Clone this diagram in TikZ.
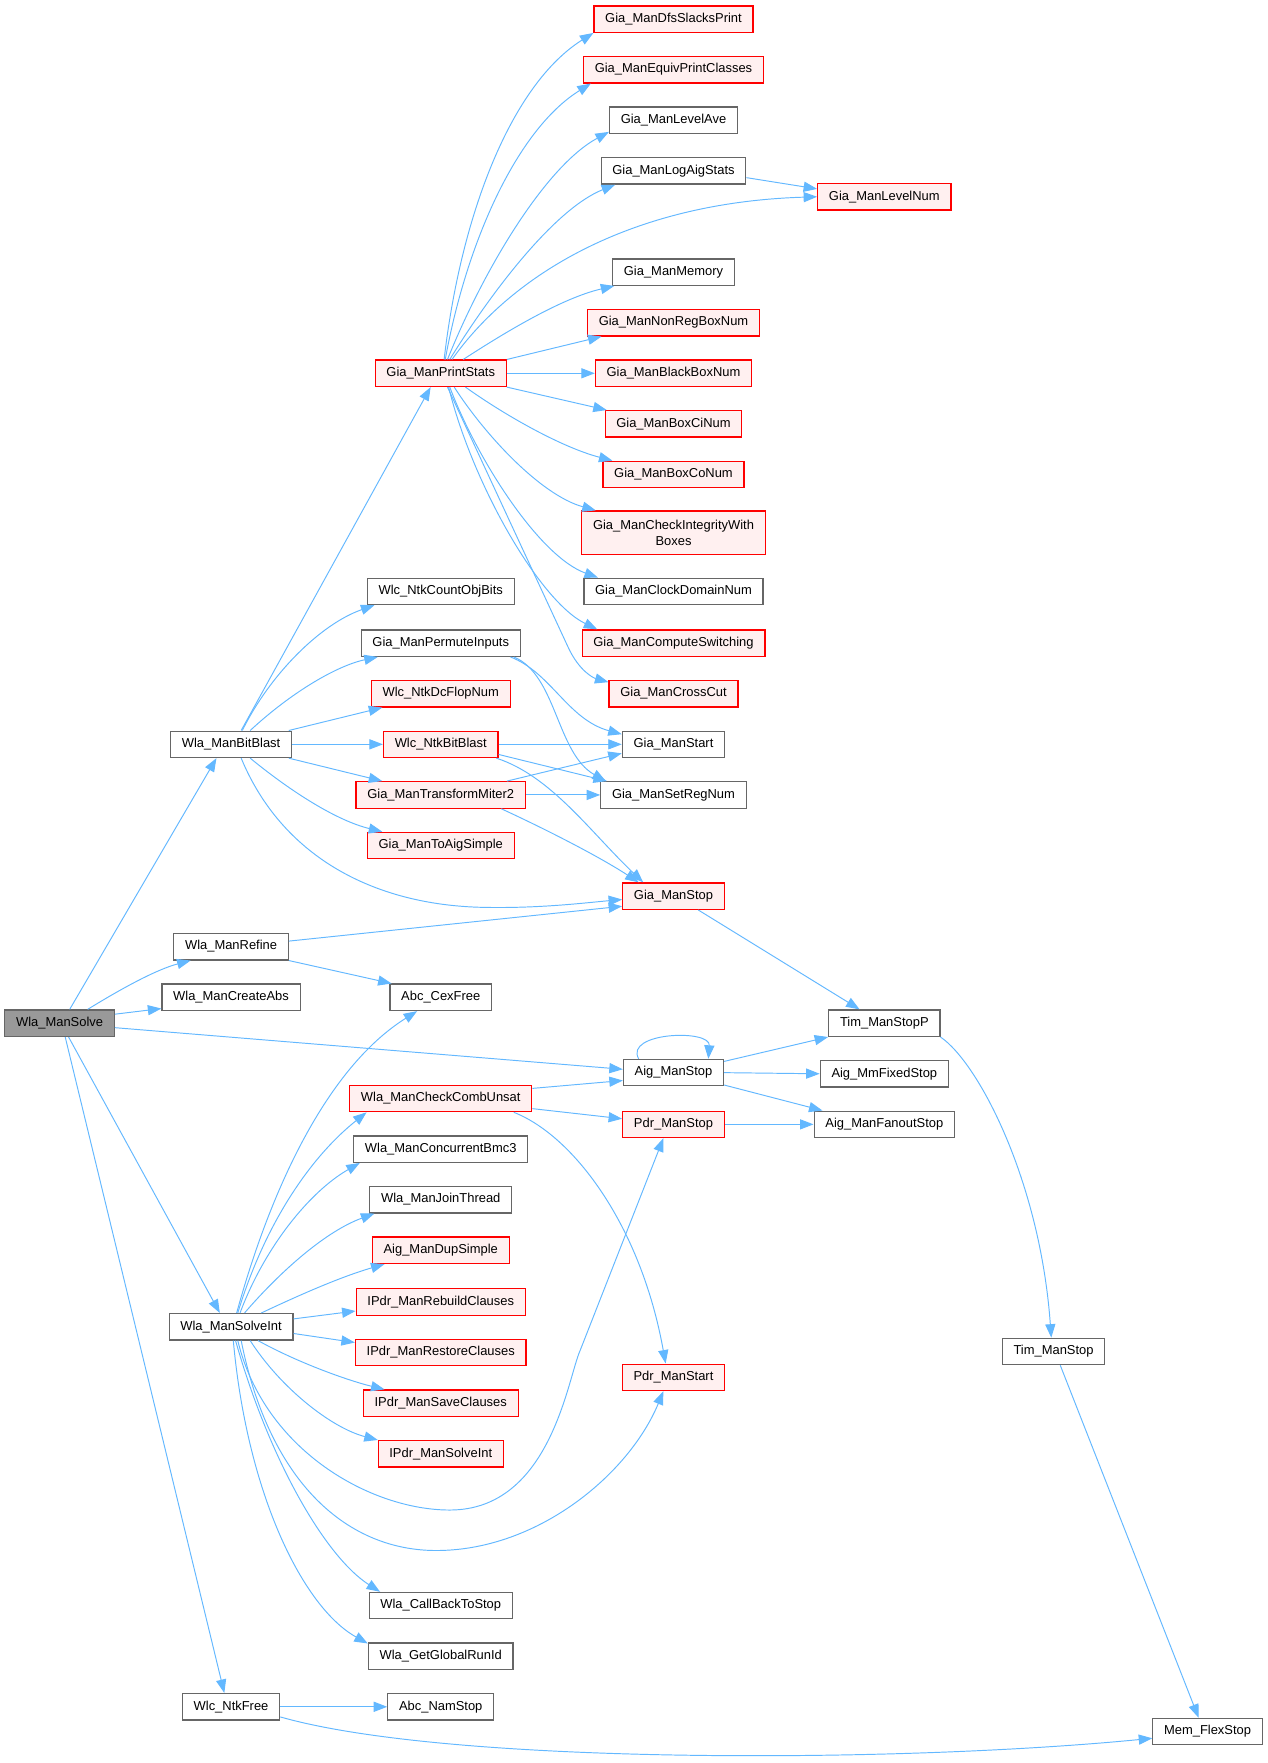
\documentclass[tikz,border=0pt]{standalone}
\usepackage{fontspec}
\setmainfont{Liberation Sans}
\usetikzlibrary{arrows.meta}
\definecolor{edgeblue}{HTML}{63B8FF}
\definecolor{nodegray}{HTML}{666666}
\definecolor{rootfill}{HTML}{999999}
\definecolor{redfill}{HTML}{FFF0F0}
\begin{document}
\begin{tikzpicture}[x=1pt,y=-1pt,
 boxbase/.style={rectangle, draw, font=\fontsize{11.5}{14}\selectfont, inner xsep=10pt, inner ysep=0pt, line width=1.1pt},
 oneline/.style={boxbase, minimum height=23.5pt, text height=8.4pt, text depth=2.6pt},
 gnode/.style={oneline, draw=nodegray, fill=white},
 rnode/.style={oneline, draw=red, fill=redfill},
 rnodetwo/.style={boxbase, draw=red, fill=redfill, minimum height=39pt, align=center},
 rootnode/.style={oneline, draw=nodegray, fill=rootfill},
 edg/.style={draw=edgeblue, line width=0.85pt, -{Triangle[length=12pt,width=9pt]}},
]
\fill[white] (0,0) rectangle (1127,1568);
\useasboundingbox (0,0) rectangle (1127,1568);

% column 0/1
\node[rootnode] (root) at (53,910) {Wla\_ManSolve};
\node[gnode] (bb) at (205.5,662) {Wla\_ManBitBlast};
\node[gnode] (ref) at (205.5,842) {Wla\_ManRefine};
\node[gnode] (ca) at (205.5,887) {Wla\_ManCreateAbs};
\node[gnode] (si) at (205.5,1180) {Wla\_ManSolveInt};
\node[gnode] (nf) at (205.5,1518) {Wlc\_NtkFree};

% column 2
\node[rnode] (ps) at (392,332) {Gia\_ManPrintStats};
\node[gnode] (cob) at (392,526) {Wlc\_NtkCountObjBits};
\node[gnode] (pi) at (392,572) {Gia\_ManPermuteInputs};
\node[rnode] (dcf) at (392,617) {Wlc\_NtkDcFlopNum};
\node[rnode] (nbb) at (392,662) {Wlc\_NtkBitBlast};
\node[rnode] (tm) at (392,707) {Gia\_ManTransformMiter2};
\node[rnode] (tas) at (392,752) {Gia\_ManToAigSimple};
\node[gnode] (cex) at (392,887) {Abc\_CexFree};
\node[rnode] (ccu) at (392,977) {Wla\_ManCheckCombUnsat};
\node[gnode] (cb3) at (392,1022) {Wla\_ManConcurrentBmc3};
\node[gnode] (jt) at (392,1067) {Wla\_ManJoinThread};
\node[rnode] (ads) at (392,1112) {Aig\_ManDupSimple};
\node[rnode] (rbc) at (392,1158) {IPdr\_ManRebuildClauses};
\node[rnode] (rsc) at (392,1203) {IPdr\_ManRestoreClauses};
\node[rnode] (svc) at (392,1248) {IPdr\_ManSaveClauses};
\node[rnode] (ipsi) at (392,1293) {IPdr\_ManSolveInt};
\node[gnode] (cbs) at (392,1428) {Wla\_CallBackToStop};
\node[gnode] (ggr) at (392,1473) {Wla\_GetGlobalRunId};
\node[gnode] (nam) at (392,1518) {Abc\_NamStop};

% column 3
\node[rnode] (dfs) at (599,17) {Gia\_ManDfsSlacksPrint};
\node[rnode] (epc) at (599,62) {Gia\_ManEquivPrintClasses};
\node[gnode] (lave) at (599,107) {Gia\_ManLevelAve};
\node[gnode] (las) at (599,152) {Gia\_ManLogAigStats};
\node[gnode] (mem) at (599,242) {Gia\_ManMemory};
\node[rnode] (nrb) at (599,287) {Gia\_ManNonRegBoxNum};
\node[rnode] (bbn) at (599,332) {Gia\_ManBlackBoxNum};
\node[rnode] (bci) at (599,377) {Gia\_ManBoxCiNum};
\node[rnode] (bco) at (599,422) {Gia\_ManBoxCoNum};
\node[rnodetwo] (cib) at (599,474) {Gia\_ManCheckIntegrityWith\\Boxes};
\node[gnode] (cdn) at (599,526) {Gia\_ManClockDomainNum};
\node[rnode] (csw) at (599,572) {Gia\_ManComputeSwitching};
\node[rnode] (cc) at (599,617) {Gia\_ManCrossCut};
\node[gnode] (gst) at (599,662) {Gia\_ManStart};
\node[gnode] (srn) at (599,707) {Gia\_ManSetRegNum};
\node[rnode] (gsp) at (599,797) {Gia\_ManStop};
\node[gnode] (ams) at (599,954) {Aig\_ManStop};
\node[rnode] (pst) at (599,1000) {Pdr\_ManStop};
\node[rnode] (pss) at (599,1225) {Pdr\_ManStart};

% column 4/5
\node[rnode] (lnum) at (786.5,175) {Gia\_ManLevelNum};
\node[gnode] (tsp) at (786.5,910) {Tim\_ManStopP};
\node[gnode] (mfs) at (786.5,955) {Aig\_MmFixedStop};
\node[gnode] (afs) at (786.5,1000) {Aig\_ManFanoutStop};
\node[gnode] (ts) at (937,1202) {Tim\_ManStop};
\node[gnode] (mf) at (1074,1540) {Mem\_FlexStop};

% root edges
\draw[edg] ([xshift=9pt]root.north) -- ([xshift=-13pt]bb.south);
\draw[edg] ([xshift=25pt]root.north) .. controls (110,878) and (140,862) .. ([xshift=-36pt]ref.south);
\draw[edg] ([yshift=8pt]root.east) -- ([yshift=-10pt]ca.west);
\draw[edg] ([yshift=-4pt]root.east) -- ([yshift=3pt]ams.west);
\draw[edg] ([xshift=8pt]root.south) -- ([xshift=-10pt]si.north);
\draw[edg] ([xshift=5pt]root.south) -- ([xshift=-6pt]nf.north);

% bitblast edges
\draw[edg] ([xshift=9pt]bb.north) -- ([xshift=-9pt]ps.south);
\draw[edg] ([xshift=10pt]bb.north) .. controls (240,600) and (285,555) .. ([xshift=-59pt]cob.south);
\draw[edg] ([xshift=17pt]bb.north) .. controls (260,615) and (300,592) .. ([xshift=-56pt]pi.south);
\draw[edg] ([xshift=-3pt]bb.north east) -- ([xshift=-52pt]dcf.south);
\draw[edg] (bb.east) -- (nbb.west);
\draw[edg] ([xshift=-3pt]bb.south east) -- ([xshift=-52pt]tm.north);
\draw[edg] ([xshift=17pt]bb.south) .. controls (260,705) and (300,730) .. ([xshift=-52pt]tas.north);
\draw[edg] ([xshift=9pt]bb.south) .. controls (250,760) and (330,805) .. (430,807) .. controls (480,808) and (520,803) .. ([yshift=-3pt]gsp.west);

% print stats edges
\draw[edg] ([xshift=3pt]ps.north) .. controls (410,190) and (455,75) .. (dfs.south west);
\draw[edg] ([xshift=4pt]ps.north) .. controls (415,215) and (460,115) .. ([xshift=7pt]epc.south west);
\draw[edg] ([xshift=6pt]ps.north) .. controls (430,240) and (485,148) .. ([yshift=2pt]lave.south west);
\draw[edg] ([xshift=8pt]ps.north) .. controls (440,255) and (495,185) .. ([xshift=13pt]las.south west);
\draw[edg] ([xshift=10pt]ps.north) .. controls (455,245) and (560,180) .. (lnum.west);
\draw[edg] ([xshift=20pt]ps.north) .. controls (450,295) and (500,265) .. ([xshift=2pt]mem.south west);
\draw[edg] (ps.north east) -- ([xshift=13pt]nrb.south west);
\draw[edg] (ps.east) -- (bbn.west);
\draw[edg] (ps.south east) -- ([xshift=2pt]bci.north west);
\draw[edg] ([xshift=22pt]ps.south) .. controls (450,370) and (500,398) .. ([xshift=9pt]bco.north west);
\draw[edg] ([xshift=12pt]ps.south) .. controls (430,385) and (480,440) .. ([xshift=13pt]cib.north west);
\draw[edg] ([xshift=8pt]ps.south) .. controls (425,410) and (480,495) .. ([xshift=13pt]cdn.north west);
\draw[edg] ([xshift=7pt]ps.south) .. controls (420,430) and (480,535) .. ([xshift=14pt]csw.north west);
\draw[edg] ([xshift=6pt]ps.south) -- (505,575) .. controls (515,597) and (528,603) .. ([yshift=-2pt]cc.north west);
\draw[edg] ([yshift=-6pt]las.east) -- ([yshift=7pt]lnum.west);

% gia start / setregnum / stop
\draw[edg] ([xshift=62pt]pi.south) .. controls (490,598) and (505,640) .. ([yshift=9pt]gst.west);
\draw[edg] ([xshift=65pt]pi.south) .. controls (495,600) and (495,670) .. ([xshift=5pt]srn.north west);
\draw[edg] (nbb.east) -- (gst.west);
\draw[edg] ([yshift=-9pt]nbb.east) -- ([xshift=6pt]srn.north west);
\draw[edg] ([xshift=-2pt]nbb.south east) .. controls (490,690) and (525,740) .. ([xshift=-27pt]gsp.north);
\draw[edg] ([xshift=-17pt]tm.north east) -- ([yshift=-8pt]gst.west);
\draw[edg] (tm.east) -- (srn.west);
\draw[edg] ([xshift=-22pt]tm.south east) .. controls (480,735) and (530,760) .. ([xshift=-31pt]gsp.north);
\draw[edg] ([xshift=22pt]gsp.south) -- ([xshift=-22pt]tsp.north);
\draw[edg] ([yshift=5pt]ref.east) -- ([yshift=-9pt]gsp.west);
\draw[edg] (ref.south east) -- ([xshift=2pt]cex.north west);

% tim / mem
\draw[edg] (tsp.south east) .. controls (870,945) and (925,1050) .. ([xshift=-2pt]ts.north);
\draw[edg] ([xshift=6pt]ts.south) -- ([xshift=-8pt]mf.north);

% aig_manstop
\draw[edg] ([xshift=-31pt]ams.north) .. controls (555,918) and (632,915) .. ([xshift=31pt]ams.north);
\draw[edg] ([yshift=10pt]ams.east) -- (tsp.south west);
\draw[edg] (ams.east) -- (mfs.west);
\draw[edg] ([yshift=-11pt]ams.east) -- ([xshift=8pt]afs.north west);
\draw[edg] (pst.east) -- (afs.west);

% check comb unsat
\draw[edg] ([yshift=9pt]ccu.east) -- ([yshift=-7pt]ams.west);
\draw[edg] ([yshift=-9pt]ccu.east) -- ([yshift=5pt]pst.west);
\draw[edg] ([xshift=65pt]ccu.south) .. controls (510,1010) and (570,1090) .. ([xshift=-7pt]pss.north);

% solve int
\draw[edg] ([xshift=5pt]si.north) .. controls (240,1060) and (290,950) .. ([xshift=-21pt]cex.south);
\draw[edg] ([xshift=6pt]si.north) .. controls (235,1090) and (275,1030) .. ([xshift=-66pt]ccu.south);
\draw[edg] ([xshift=8pt]si.north) .. controls (235,1110) and (275,1060) .. ([xshift=-72pt]cb3.south);
\draw[edg] ([xshift=12pt]si.north) .. controls (250,1130) and (290,1095) .. ([xshift=-59pt]jt.south);
\draw[edg] ([xshift=27pt]si.north) .. controls (270,1150) and (305,1135) .. ([xshift=-50pt]ads.south);
\draw[edg] ([yshift=7pt]si.east) -- ([yshift=-8pt]rbc.west);
\draw[edg] ([yshift=-6pt]si.east) -- ([yshift=9pt]rsc.west);
\draw[edg] ([xshift=24pt]si.south) .. controls (265,1212) and (310,1228) .. ([xshift=-50pt]svc.north);
\draw[edg] ([xshift=17pt]si.south) .. controls (250,1235) and (295,1270) .. ([xshift=-56pt]ipsi.north);
\draw[edg] ([xshift=6pt]si.south) .. controls (235,1290) and (330,1343) .. (400,1343) .. controls (490,1343) and (505,1225) .. (516,1201) -- ([xshift=-9pt]pst.south);
\draw[edg] ([xshift=9pt]si.south) .. controls (240,1320) and (310,1380) .. (390,1379) .. controls (480,1378) and (560,1310) .. ([xshift=-9pt]pss.south);
\draw[edg] ([xshift=4pt]si.south) .. controls (240,1300) and (290,1385) .. ([xshift=-54pt]cbs.north);
\draw[edg] ([xshift=2pt]si.south) .. controls (220,1330) and (270,1430) .. ([yshift=-1pt]ggr.north west);

% ntk free
\draw[edg] (nf.east) -- (nam.west);
\draw[edg] ([yshift=-9pt]nf.east) .. controls (400,1570) and (800,1568) .. ([yshift=-6pt]mf.west);
\end{tikzpicture}
\end{document}
